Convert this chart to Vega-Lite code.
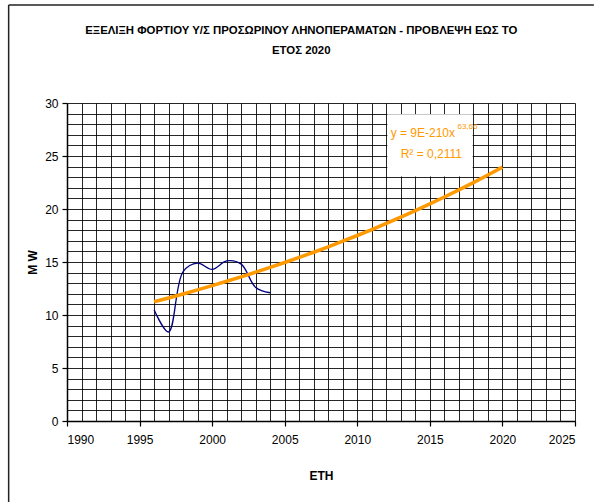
{
  "$schema": "https://vega.github.io/schema/vega-lite/v6.json",
  "autosize": "none",
  "width": 508,
  "height": 318,
  "padding": {"left": 67, "top": 103, "right": 19, "bottom": 81},
  "background": "white",
  "title": {
    "text": ["ΕΞΕΛΙΞΗ ΦΟΡΤΙΟΥ Υ/Σ ΠΡΟΣΩΡΙΝΟΥ ΛΗΝΟΠΕΡΑΜΑΤΩΝ - ΠΡΟΒΛΕΨΗ ΕΩΣ ΤΟ", "ΕΤΟΣ 2020"],
    "font": "Liberation Sans",
    "fontSize": 11.4,
    "fontWeight": "bold",
    "color": "black",
    "anchor": "middle",
    "frame": "bounds",
    "lineHeight": 20,
    "offset": -52
  },
  "config": {
    "view": {"stroke": null},
    "axis": {
      "labelFont": "Liberation Sans",
      "labelFontSize": 12,
      "labelColor": "black",
      "titleFont": "Liberation Sans",
      "titleFontSize": 12,
      "titleFontWeight": "bold",
      "titleColor": "black",
      "domainColor": "black",
      "domainWidth": 1.5,
      "gridColor": "black",
      "gridWidth": 1,
      "gridOpacity": 0.85,
      "tickColor": "black",
      "tickWidth": 1.2
    }
  },
  "datasets": {
    "load": [
      {"year": 1996, "mw": 10.5},
      {"year": 1997, "mw": 8.4},
      {"year": 1998, "mw": 14.1},
      {"year": 1999, "mw": 14.9},
      {"year": 2000, "mw": 14.3},
      {"year": 2001, "mw": 15.1},
      {"year": 2002, "mw": 14.8},
      {"year": 2003, "mw": 12.6},
      {"year": 2004, "mw": 12.1}
    ],
    "trend": [
      {"year": 1996, "mw": 11.25},
      {"year": 1997, "mw": 11.61},
      {"year": 1998, "mw": 11.98},
      {"year": 1999, "mw": 12.37},
      {"year": 2000, "mw": 12.77},
      {"year": 2001, "mw": 13.18},
      {"year": 2002, "mw": 13.6},
      {"year": 2003, "mw": 14.04},
      {"year": 2004, "mw": 14.49},
      {"year": 2005, "mw": 14.95},
      {"year": 2006, "mw": 15.43},
      {"year": 2007, "mw": 15.92},
      {"year": 2008, "mw": 16.43},
      {"year": 2009, "mw": 16.96},
      {"year": 2010, "mw": 17.5},
      {"year": 2011, "mw": 18.06},
      {"year": 2012, "mw": 18.64},
      {"year": 2013, "mw": 19.23},
      {"year": 2014, "mw": 19.85},
      {"year": 2015, "mw": 20.48},
      {"year": 2016, "mw": 21.13},
      {"year": 2017, "mw": 21.8},
      {"year": 2018, "mw": 22.49},
      {"year": 2019, "mw": 23.21},
      {"year": 2020, "mw": 23.95}
    ]
  },
  "layer": [
    {
      "data": {"name": "load"},
      "mark": {"type": "line", "color": "#000080", "strokeWidth": 1.3, "interpolate": "catmull-rom"},
      "encoding": {
        "x": {
          "field": "year", "type": "quantitative",
          "scale": {"domain": [1990, 2025], "nice": false, "zero": false},
          "axis": {
            "title": "ETH",
            "titlePadding": 25,
            "values": [1990,1991,1992,1993,1994,1995,1996,1997,1998,1999,2000,2001,2002,2003,2004,2005,2006,2007,2008,2009,2010,2011,2012,2013,2014,2015,2016,2017,2018,2019,2020,2021,2022,2023,2024,2025],
            "tickCount": 50,
            "format": "d",
            "labelExpr": "datum.value % 5 === 0 ? datum.label : ''",
            "labelOverlap": false,
            "labelPadding": 8,
            "tickSize": 5,
            "tickOpacity": {"condition": {"test": "datum.value % 5 === 0", "value": 1}, "value": 0},
            "grid": true
          }
        },
        "y": {
          "field": "mw", "type": "quantitative",
          "scale": {"domain": [0, 30], "nice": false},
          "axis": {
            "title": "M W",
            "titlePadding": 5,
            "values": [0,1,2,3,4,5,6,7,8,9,10,11,12,13,14,15,16,17,18,19,20,21,22,23,24,25,26,27,28,29,30],
            "tickCount": 50,
            "format": "d",
            "labelExpr": "datum.value % 5 === 0 ? datum.label : ''",
            "labelOverlap": false,
            "labelPadding": 4,
            "tickSize": 5,
            "tickOpacity": {"condition": {"test": "datum.value % 5 === 0", "value": 1}, "value": 0},
            "grid": true
          }
        }
      }
    },
    {
      "data": {"name": "trend"},
      "mark": {"type": "line", "color": "#FF9900", "strokeWidth": 3.5},
      "encoding": {
        "x": {"field": "year", "type": "quantitative"},
        "y": {"field": "mw", "type": "quantitative"}
      }
    },
    {
      "data": {"values": [{}]},
      "mark": {"type": "rect", "fill": "white"},
      "encoding": {
        "x": {"datum": 2012.07, "type": "quantitative"},
        "x2": {"datum": 2017.95},
        "y": {"datum": 28.93, "type": "quantitative"},
        "y2": {"datum": 23.07}
      }
    },
    {
      "data": {"values": [{}]},
      "mark": {"type": "text", "text": "y = 9E-210x", "color": "#FF9900", "font": "Liberation Sans", "fontSize": 12, "align": "left", "baseline": "middle"},
      "encoding": {
        "x": {"datum": 2012.3, "type": "quantitative"},
        "y": {"datum": 27.15, "type": "quantitative"}
      }
    },
    {
      "data": {"values": [{}]},
      "mark": {"type": "text", "text": "63,66", "color": "#FF9900", "font": "Liberation Sans", "fontSize": 8, "align": "left", "baseline": "middle"},
      "encoding": {
        "x": {"datum": 2016.9, "type": "quantitative"},
        "y": {"datum": 27.7, "type": "quantitative"}
      }
    },
    {
      "data": {"values": [{}]},
      "mark": {"type": "text", "text": "R² = 0,2111", "color": "#FF9900", "font": "Liberation Sans", "fontSize": 12, "align": "center", "baseline": "middle"},
      "encoding": {
        "x": {"datum": 2015.1, "type": "quantitative"},
        "y": {"datum": 25.2, "type": "quantitative"}
      }
    },
    {
      "data": {"values": [{}]},
      "mark": {"type": "rule", "color": "#222", "strokeWidth": 1.5},
      "encoding": {
        "x": {"datum": 1985.98, "type": "quantitative"},
        "x2": {"datum": 2026.3},
        "y": {"datum": 39.25, "type": "quantitative"}
      }
    },
    {
      "data": {"values": [{}]},
      "mark": {"type": "rule", "color": "#222", "strokeWidth": 1.5},
      "encoding": {
        "x": {"datum": 1985.98, "type": "quantitative"},
        "y": {"datum": 39.25, "type": "quantitative"},
        "y2": {"datum": -8}
      }
    }
  ]
}
